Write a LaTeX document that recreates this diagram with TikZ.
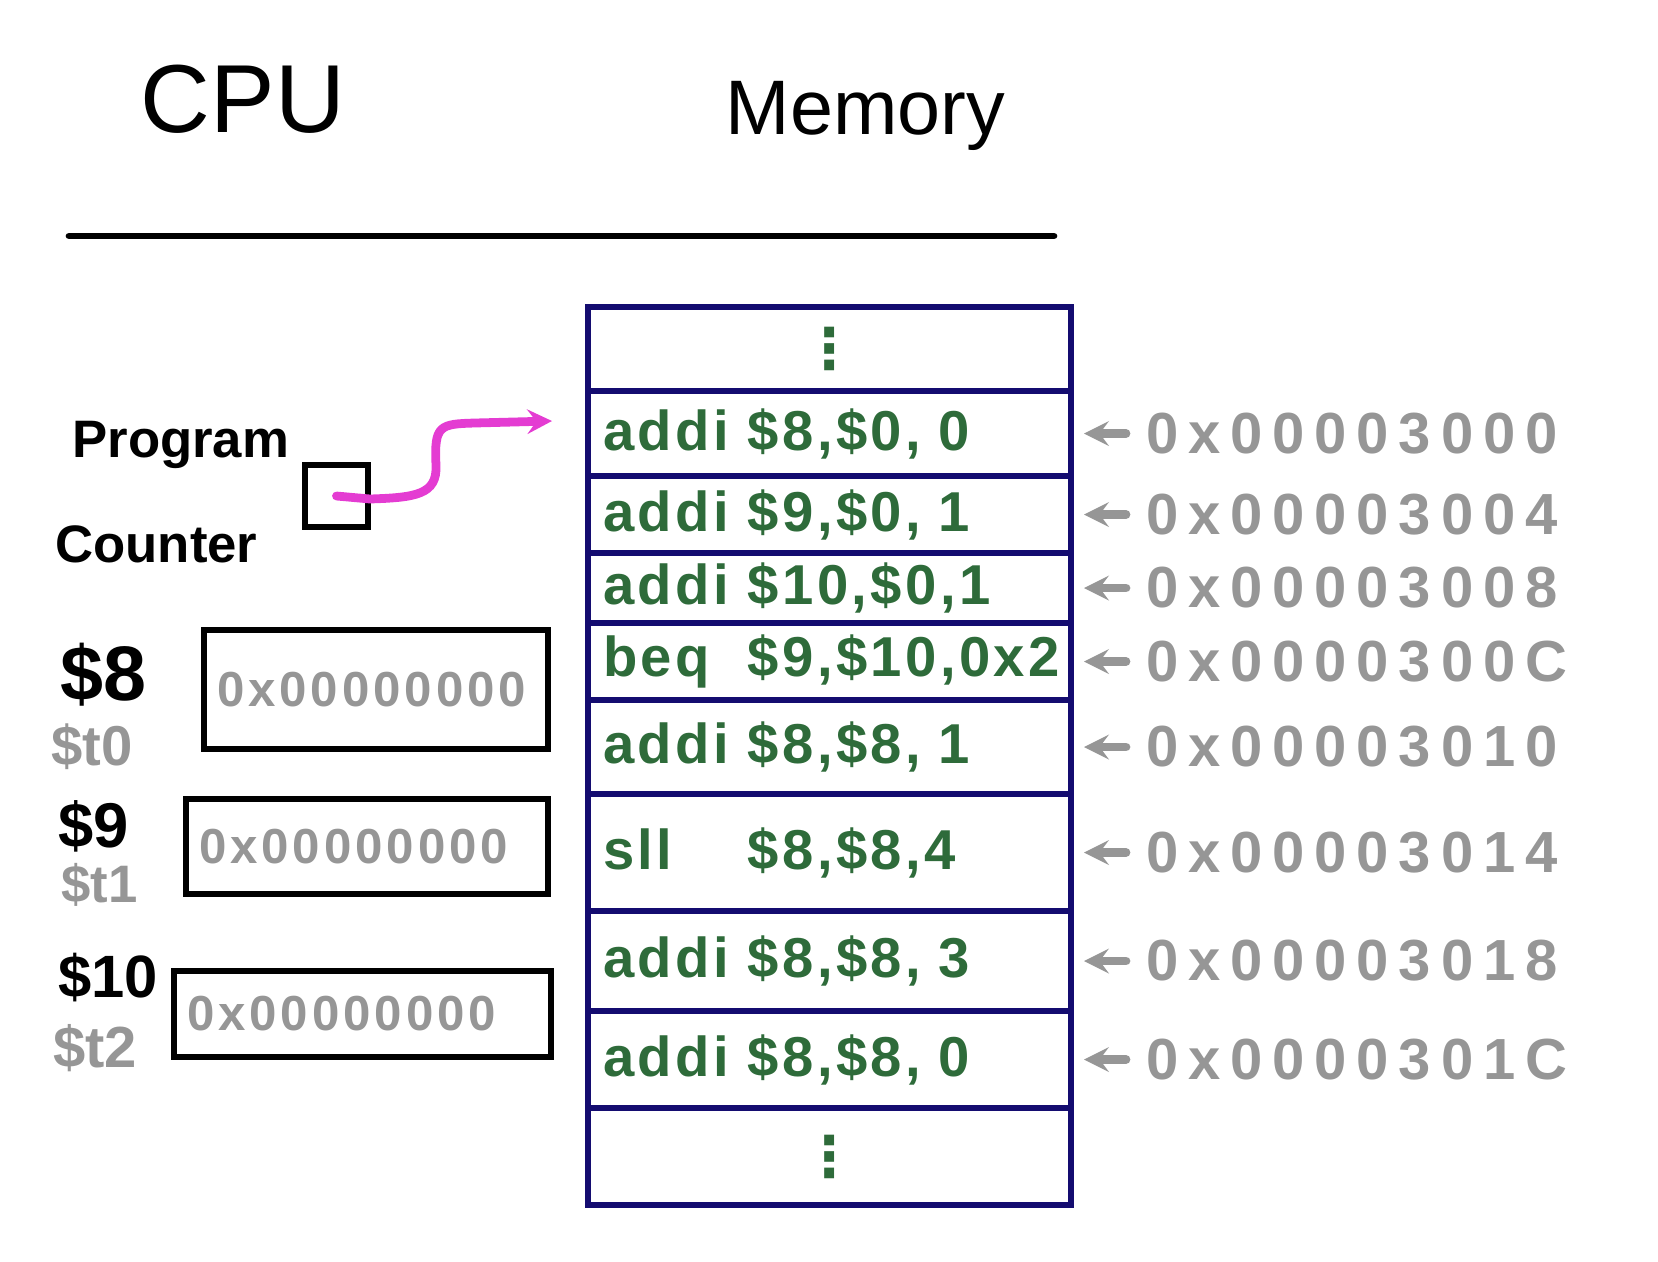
\documentclass[tikz,border=0pt]{standalone}
\usepackage{fontspec}
\setmainfont{Liberation Sans}
\newfontfamily\dotsfont{DejaVu Sans}
\newfontfamily\codefont[LetterSpace=6]{Liberation Sans}
\newfontfamily\addrfont[LetterSpace=17]{Liberation Sans}
\newfontfamily\valfont[LetterSpace=8]{Liberation Sans}
\usetikzlibrary{positioning}
\definecolor{memnavy}{RGB}{20,12,112}
\definecolor{codegreen}{RGB}{46,107,58}
\definecolor{addrgray}{RGB}{150,150,150}
\definecolor{pcpink}{RGB}{228,60,210}
\newcommand{\instr}[2]{\makebox[2.9cm][l]{#1}#2}

\begin{document}
\begin{tikzpicture}[
    hw/.style={inner sep=0pt, anchor=base west, font=\fontsize{#1}{#1}\selectfont},
    memrow/.style={draw=memnavy, line width=3.6pt, outer sep=0pt, minimum height=#1,
        text width=9.06cm, inner xsep=0.3cm, inner ysep=0pt, align=left,
        text=codegreen, font=\codefont\bfseries\fontsize{32}{38}\selectfont},
    addr/.style={inner sep=0pt, text=addrgray, font=\addrfont\bfseries\fontsize{33}{40}\selectfont},
    addrarrow/.style={draw=addrgray, line width=5pt, line cap=round, -stealth, shorten <=0.4cm, shorten >=0.26cm},
    regbox/.style={draw, line width=3.6pt, text width=#1, inner xsep=0.26cm, align=left,
        text=addrgray, font=\valfont\bfseries\fontsize{28}{34}\selectfont}
]
    \useasboundingbox (0,0) rectangle (33.16,-25.22);

    % titles
    \node[anchor=base, inner sep=0pt, font=\fontsize{55}{60}\selectfont] (cpu) at (4.86,-2.64) {CPU};
    \node[anchor=base, inner sep=0pt, font=\fontsize{44}{48}\selectfont] (mem) at (17.31,-2.68) {Memory};
    \coordinate (lineL) at (1.38,-4.72);
    \coordinate (lineR) at (21.08,-4.72);
    \draw[line width=3.8pt, line cap=round] (lineL) -- (lineR);

    % program counter
    \node[hw=30, font=\bfseries\fontsize{30}{30}\selectfont] (pcname) at (1.44,-9.14) {Program};
    \node[hw=30, font=\bfseries\fontsize{30}{30}\selectfont] (pcname2) at (1.1,-11.24) {Counter};
    \node[draw, line width=3.6pt, minimum width=1.26cm, minimum height=1.24cm] (pc) at (6.73,-9.92) {};

    % registers
    \node[hw=44, font=\bfseries\fontsize{44}{44}\selectfont] (n8) at (1.2,-14.0) {\$8};
    \node[hw=32, text=addrgray, font=\bfseries\fontsize{32}{32}\selectfont] (t0) at (1.02,-15.3) {\$t0};
    \node[hw=36, font=\bfseries\fontsize{36}{36}\selectfont] (n9) at (1.16,-16.95) {\$9};
    \node[hw=30, text=addrgray, font=\bfseries\fontsize{30}{30}\selectfont] (t1) at (1.22,-18.05) {\$t1};
    \node[hw=34, font=\bfseries\fontsize{34}{34}\selectfont] (n10) at (1.16,-19.95) {\$10};
    \node[hw=33, text=addrgray, font=\bfseries\fontsize{33}{33}\selectfont] (t2) at (1.06,-21.35) {\$t2};
    \node[regbox=6.36cm, minimum height=2.38cm, anchor=west] (r8) at (4.02,-13.79) {0x00000000};
    \node[regbox=6.72cm, minimum height=1.9cm, anchor=west] (r9) at (3.66,-16.93) {0x00000000};
    \node[regbox=7.02cm, minimum height=1.72cm, anchor=west] (r10) at (3.42,-20.28) {0x00000000};

    % memory
    \node[memrow=1.68cm, anchor=north, align=center] (m0) at (16.59,-6.14) {\dotsfont ⋮};
    \node[memrow=1.70cm, below=0pt of m0] (m1) {\instr{addi}{\$8,\$0,\hspace{0.3em}0}};
    \node[memrow=1.54cm, below=0pt of m1] (m2) {\instr{addi}{\$9,\$0,\hspace{0.3em}1}};
    \node[memrow=1.40cm, below=0pt of m2] (m3) {\instr{addi}{\$10,\$0,1}};
    \node[memrow=1.54cm, below=0pt of m3] (m4) {\instr{beq}{\$9,\$10,0x2}};
    \node[memrow=1.88cm, below=0pt of m4] (m5) {\instr{addi}{\$8,\$8,\hspace{0.3em}1}};
    \node[memrow=2.34cm, below=0pt of m5] (m6) {\instr{sll}{\$8,\$8,4}};
    \node[memrow=2.00cm, below=0pt of m6] (m7) {\instr{addi}{\$8,\$8,\hspace{0.3em}3}};
    \node[memrow=1.94cm, below=0pt of m7] (m8) {\instr{addi}{\$8,\$8,\hspace{0.3em}0}};
    \node[memrow=1.94cm, below=0pt of m8, align=center] (m9) {\dotsfont ⋮};

    % addresses
    \node[addr, right=1.5cm of m1] (a1) {0x00003000};
    \node[addr, right=1.5cm of m2] (a2) {0x00003004};
    \node[addr, right=1.5cm of m3] (a3) {0x00003008};
    \node[addr, right=1.5cm of m4] (a4) {0x0000300C};
    \node[addr, right=1.5cm of m5] (a5) {0x00003010};
    \node[addr, right=1.5cm of m6] (a6) {0x00003014};
    \node[addr, right=1.5cm of m7] (a7) {0x00003018};
    \node[addr, right=1.5cm of m8] (a8) {0x0000301C};
    \foreach \i in {1,...,8}
        \draw[addrarrow] (a\i.west) -- (m\i.east);

    % pc points at first instruction
    \coordinate (pcend) at ([shift={(-0.72,0.25)}]m1.west);
    \draw[pcpink, line width=5pt, line cap=round, -stealth] (pc.center) -- (7.4,-9.98)
        .. controls (8.3,-9.95) and (8.75,-9.9) .. (8.72,-9.3)
        .. controls (8.68,-8.5) and (8.8,-8.48) .. (9.5,-8.46) -- (pcend);
\end{tikzpicture}
\end{document}
